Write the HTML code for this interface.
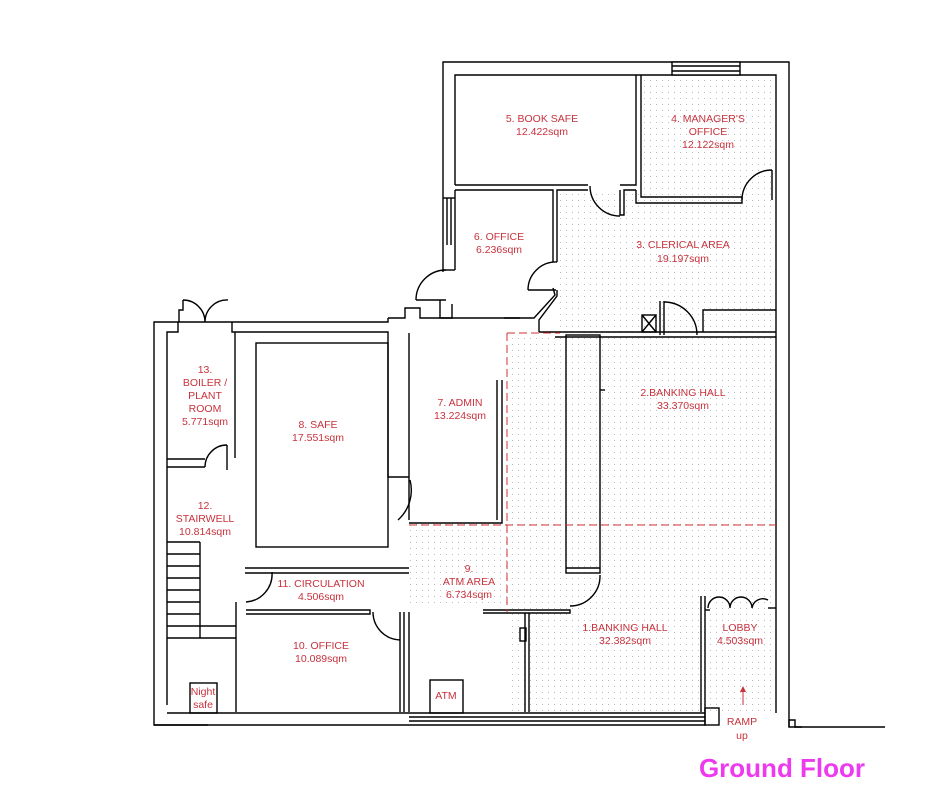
<!DOCTYPE html>
<html><head><style>
html,body{margin:0;padding:0;background:#fff;}
svg{display:block;}
text{font-family:"Liberation Sans",sans-serif;fill:#c8323c;font-size:10.5px;text-anchor:middle;}
</style></head><body>
<svg width="936" height="800" viewBox="0 0 936 800" xmlns="http://www.w3.org/2000/svg">
<defs>
<pattern id="dots" width="6" height="6" patternUnits="userSpaceOnUse">
<rect x="2" y="2" width="1" height="1" fill="#b8b8c8"/>
</pattern>
</defs>
<g fill="url(#dots)">
<rect x="641" y="75" width="135" height="122"/>
<rect x="557" y="190" width="219" height="143"/>
<rect x="509" y="333" width="267" height="380"/>
<rect x="409" y="523" width="100" height="82"/>
</g>
<g fill="none" stroke="#000" stroke-width="1.4">
<polyline points="443,272 443,62 789,62 789,727 802,727"/>
<polyline points="455,185 455,75 776,75 776,713"/>
<rect x="672" y="62" width="68" height="13" fill="#fff"/>
<line x1="672" y1="66" x2="740" y2="66"/>
<line x1="672" y1="71" x2="740" y2="71"/>
<line x1="443" y1="198" x2="455" y2="198"/>
<line x1="443" y1="270" x2="455" y2="270"/>
<line x1="455" y1="190" x2="455" y2="270"/>
<line x1="447" y1="198" x2="447" y2="245"/>
<line x1="451" y1="198" x2="451" y2="245"/>
<polyline points="455,185 588,185"/>
<polyline points="455,190 553,190 553,262"/>
<polyline points="557,262 557,190 588,190"/>
<polyline points="620,185 636,185 636,75"/>
<polyline points="620,190 620,215 624,215 624,190 636,190"/>
<polyline points="641,75 641,197 742,197"/>
<polyline points="636,190 636,203 742,203 742,197"/>
<path d="M742,200 A30,30 0 0 1 772,170" />
<line x1="772" y1="170" x2="772" y2="200"/>
<path d="M590,186 A30,30 0 0 0 620,216"/>
<path d="M557,262 A28,28 0 0 0 528,290"/>
<line x1="528" y1="290" x2="556" y2="290"/>
<polyline points="557,290 557,296 539,320 539,332"/>
<polyline points="553,288 555,295 534,318 504,318"/>
<polyline points="539,332 776,332"/>
<polyline points="555,337 776,337"/>
<path d="M446,270 A30,30 0 0 0 416,300"/>
<line x1="416" y1="300" x2="446" y2="300"/>
<polyline points="440,300 440,318 452,318 452,304"/>
<rect x="642" y="315" width="14" height="17"/>
<line x1="642" y1="315" x2="656" y2="332"/>
<line x1="656" y1="315" x2="642" y2="332"/>
<line x1="660" y1="301" x2="660" y2="335"/>
<line x1="664" y1="301" x2="664" y2="335"/>
<path d="M664,302 A33,33 0 0 1 697,335"/>
<polyline points="703,332 703,310 776,310"/>
<polyline points="388,318 388,322 154,322 154,725 208,725"/>
<polyline points="179,322 179,310 183,310 183,300 M232,300 232,310 235,310 235,322"/>
<path d="M183,300 A22,22 0 0 1 205,322 A22,22 0 0 1 228,300"/>
<polyline points="388,318 405,318 405,308 420,308 420,318 520,318"/>
<polyline points="167,705 167,332 178,332 178,322"/>
<polyline points="232,322 232,332 388,332 388,345"/>
<polyline points="409,333 409,520 M409,600 409,700 M405,333 502,333"/>
<polyline points="235,332 235,458 M240,332 240,568 245,568"/>
<line x1="167" y1="459" x2="205" y2="459"/>
<line x1="167" y1="467" x2="205" y2="467"/>
<path d="M205,467 A22,22 0 0 1 227,445"/>
<line x1="227" y1="445" x2="227" y2="470"/>
<g>
<line x1="167" y1="542" x2="200" y2="542"/>
<line x1="167" y1="554" x2="200" y2="554"/>
<line x1="167" y1="566" x2="200" y2="566"/>
<line x1="167" y1="578" x2="200" y2="578"/>
<line x1="167" y1="590" x2="200" y2="590"/>
<line x1="167" y1="602" x2="200" y2="602"/>
<line x1="167" y1="614" x2="200" y2="614"/>
<line x1="167" y1="626" x2="236" y2="626"/>
<line x1="167" y1="638" x2="236" y2="638"/>
<line x1="200" y1="542" x2="200" y2="638"/>
</g>
<polyline points="236,602 236,712 M246,604 246,712"/>
<rect x="256" y="343" width="132" height="204"/>
<polyline points="388,345 388,477 409,477 M388,520 388,547"/>
<path d="M410,480 A40,40 0 0 1 398,520"/>
<polyline points="502,380 502,523 409,523"/>
<line x1="497" y1="380" x2="497" y2="520"/>
<polyline points="245,568 409,568"/>
<line x1="245" y1="573" x2="409" y2="573"/>
<path d="M272,572 A28,28 0 0 1 246,602"/>
<polyline points="246,610 370,610 370,614 246,614"/>
<path d="M373,612 A28,28 0 0 0 400,640"/>
<line x1="400" y1="612" x2="400" y2="712"/>
<line x1="404" y1="612" x2="404" y2="712"/>
<line x1="409" y1="612" x2="409" y2="712"/>
<rect x="190" y="683" width="27" height="30"/>
<rect x="430" y="680" width="33" height="33"/>
<polyline points="154,725 705,725 705,712"/>
<line x1="167" y1="713" x2="705" y2="713"/>
<line x1="409" y1="717" x2="705" y2="717"/>
<line x1="409" y1="721" x2="705" y2="721"/>
<rect x="705" y="708" width="14" height="17"/>
<polyline points="483,610 570,610 570,613 483,613"/>
<line x1="525" y1="613" x2="525" y2="712"/>
<line x1="529" y1="613" x2="529" y2="712"/>
<rect x="520" y="628" width="6" height="13"/>
<rect x="566" y="335" width="34" height="238"/>
<line x1="600" y1="390" x2="605" y2="390"/>
<line x1="566" y1="568" x2="600" y2="568"/>
<path d="M600,575 A30,30 0 0 1 570,606"/>
<line x1="701" y1="596" x2="701" y2="712"/>
<line x1="705" y1="596" x2="705" y2="712"/>
<path d="M708,608 A11,11 0 0 1 730,608 A11,11 0 0 1 752,608 A11,11 0 0 1 768,600"/>
<line x1="705" y1="610" x2="710" y2="610"/>
<line x1="768" y1="608" x2="776" y2="608"/>
<polyline points="789,727 789,720 795,720 795,727 885,727"/>
</g>
<g stroke="#d03030" stroke-width="1" fill="none" stroke-dasharray="8,4">
<line x1="507" y1="333" x2="507" y2="612"/>
<line x1="507" y1="333" x2="560" y2="333"/>
<line x1="409" y1="525" x2="776" y2="525"/>
</g>
<line x1="743" y1="690" x2="743" y2="705" stroke="#c8323c"/>
<polygon points="740,692 746,692 743,686" fill="#c8323c"/>
<text x="542" y="122">5. BOOK  SAFE</text><text x="542" y="135">12.422sqm</text>
<text x="708" y="122">4. MANAGER'S</text><text x="708" y="135">OFFICE</text><text x="708" y="148">12.122sqm</text>
<text x="499" y="240">6. OFFICE</text><text x="499" y="253">6.236sqm</text>
<text x="683" y="248">3. CLERICAL AREA</text><text x="683" y="262">19.197sqm</text>
<text x="683" y="396">2.BANKING HALL</text><text x="683" y="409">33.370sqm</text>
<text x="205" y="373">13.</text><text x="205" y="386">BOILER /</text><text x="205" y="399">PLANT</text><text x="205" y="412">ROOM</text><text x="205" y="425">5.771sqm</text>
<text x="318" y="428">8. SAFE</text><text x="318" y="441">17.551sqm</text>
<text x="460" y="406">7. ADMIN</text><text x="460" y="419">13.224sqm</text>
<text x="205" y="509">12.</text><text x="205" y="522">STAIRWELL</text><text x="205" y="535">10.814sqm</text>
<text x="321" y="587">11. CIRCULATION</text><text x="321" y="600">4.506sqm</text>
<text x="469" y="572">9.</text><text x="469" y="585">ATM AREA</text><text x="469" y="598">6.734sqm</text>
<text x="321" y="649">10. OFFICE</text><text x="321" y="662">10.089sqm</text>
<text x="625" y="631">1.BANKING HALL</text><text x="625" y="644">32.382sqm</text>
<text x="740" y="631">LOBBY</text><text x="740" y="644">4.503sqm</text>
<text x="203" y="695">Night</text><text x="203" y="708">safe</text>
<text x="446" y="699">ATM</text>
<text x="742" y="725">RAMP</text><text x="742" y="739">up</text>
<text x="782" y="777" style="font-size:26px;font-weight:bold;fill:#ee3aee;">Ground Floor</text>
</svg>
</body></html>
